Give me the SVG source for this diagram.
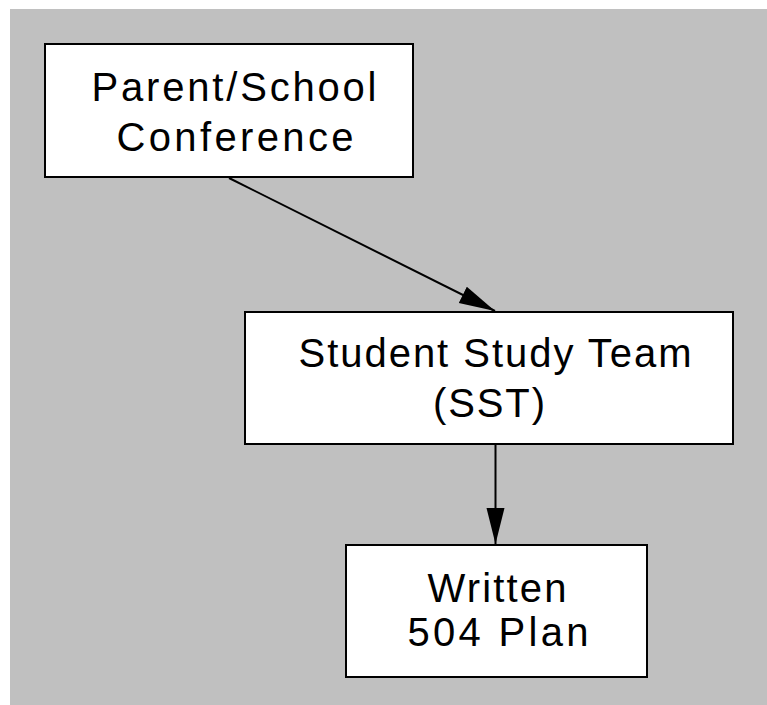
<svg xmlns="http://www.w3.org/2000/svg" width="767" height="705" viewBox="0 0 767 705">
  <style>
    .box { fill: #ffffff; stroke: #000000; stroke-width: 2; }
    .label { font-family: "Liberation Sans", Arial, sans-serif; font-size: 40px; fill: #000000; text-anchor: middle; }
    .edge { fill: none; stroke: #000000; stroke-width: 2; }
  </style>
  <defs>
    <marker id="arrow" markerUnits="userSpaceOnUse" markerWidth="36" markerHeight="20" viewBox="0 0 34 17" refX="34" refY="8.5" orient="auto">
      <path d="M0,0 L34,8.5 L0,17 Z" fill="#000000"/>
    </marker>
  </defs>

  <rect x="10" y="9" width="757" height="696" fill="#c0c0c0"/>

  <g id="edges">
    <line class="edge" x1="229" y1="178" x2="495" y2="311" marker-end="url(#arrow)"/>
    <line class="edge" x1="495.5" y1="444" x2="495.5" y2="544" marker-end="url(#arrow)"/>
  </g>

  <g id="conference">
    <rect class="box" x="45" y="44" width="368" height="133"/>
    <text class="label" x="234" y="101" textLength="285" lengthAdjust="spacing">Parent/School</text>
    <text class="label" x="235" y="151" textLength="237" lengthAdjust="spacing">Conference</text>
  </g>

  <g id="sst">
    <rect class="box" x="245" y="312" width="488" height="132"/>
    <text class="label" x="495" y="367" textLength="393" lengthAdjust="spacing">Student Study Team</text>
    <text class="label" x="489" y="417" textLength="112" lengthAdjust="spacing">(SST)</text>
  </g>

  <g id="plan504">
    <rect class="box" x="346" y="545" width="301" height="132"/>
    <text class="label" x="497" y="602" textLength="139" lengthAdjust="spacing">Written</text>
    <text class="label" x="498" y="646" textLength="181" lengthAdjust="spacing">504 Plan</text>
  </g>
</svg>
